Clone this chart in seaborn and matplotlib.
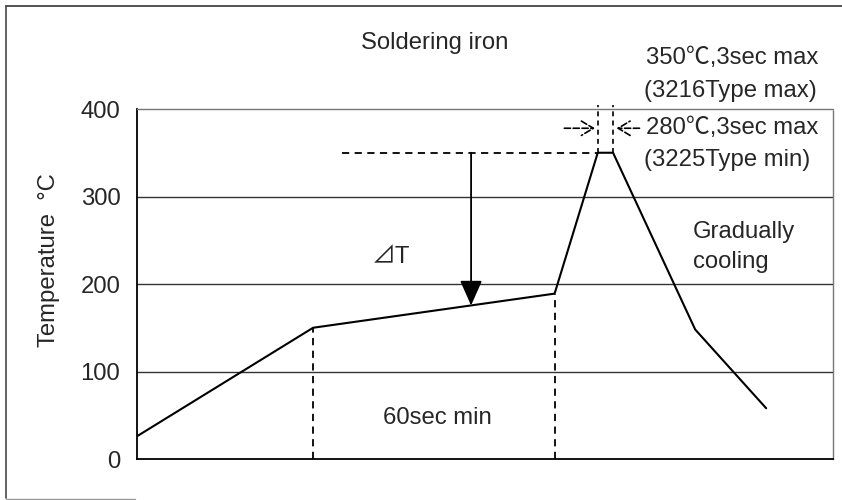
import numpy as np
import pandas as pd
import matplotlib
matplotlib.use("Agg")

import matplotlib.pyplot as plt
import seaborn as sns
from matplotlib.lines import Line2D

# Profile data (time in arbitrary units, temperature in degC)
time_pts = [0, 25.3, 60, 66.2, 68.4, 80.2, 90.4]
temp_pts = [26, 150, 189, 350, 350, 148, 58]

y_ticks = [0, 100, 200, 300, 400]

peak_temp = 350
preheat_start = 25.3
preheat_end = 60
peak_left = 66.2
peak_right = 68.4
delta_x = 48

sns.set_style("white")
plt.rcParams["font.family"] = ["Liberation Sans", "Noto Sans CJK JP", "DejaVu Sans"]
plt.rcParams["font.size"] = 17.2

df = pd.DataFrame({"time": time_pts, "temp": temp_pts})

fig = plt.figure(figsize=(8.42, 5.0), dpi=100)
ax = fig.add_axes([137 / 842, 1 - 459 / 500, 696 / 842, 350 / 500])

sns.lineplot(
    data=df,
    x="time",
    y="temp",
    color="black",
    lw=1.5,
    ax=ax
)

ax.set_xlim(0, 100)
ax.set_ylim(0, 400)
ax.set_yticks(y_ticks)
ax.set_xticks([])
ax.set_xlabel("")
ax.set_ylabel("Temperature  \u00b0C")
ax.yaxis.set_label_coords(-0.111, 0.569)
ax.tick_params(axis="y", length=0, pad=12)

# grid lines
for t in y_ticks[1:-1]:
    ax.axhline(t, color="#333333", lw=1.0, zorder=0)

for side in ["left", "bottom"]:
    ax.spines[side].set_color("black")
    ax.spines[side].set_linewidth(1.3)
for side in ["top", "right"]:
    ax.spines[side].set_color("#777777")
    ax.spines[side].set_linewidth(1.0)
    ax.spines[side].set_linestyle((0, (1, 1)))

dash = (0, (4, 3))

# vertical dashed lines of the preheat window
for xv in [preheat_start, preheat_end]:
    yv = np.interp(xv, time_pts, temp_pts)
    ax.plot([xv, xv], [0, yv], color="black", lw=1.3, linestyle=dash)

# horizontal dashed peak level
ax.plot([29.5, peak_left], [peak_temp, peak_temp], color="black", lw=1.3, linestyle=dash)

# delta T arrow
y_tip = np.interp(delta_x, time_pts, temp_pts)
ax.annotate(
    "",
    xy=(delta_x, y_tip),
    xytext=(delta_x, peak_temp),
    arrowprops=dict(
        arrowstyle="-|>,head_length=0.9,head_width=0.4",
        color="black",
        lw=1.3,
        shrinkA=0,
        shrinkB=0
    )
)

# peak dwell marks
for xv in [peak_left, peak_right]:
    ax.plot([xv, xv], [peak_temp, 405], color="black", lw=1.2,
            linestyle=(0, (3, 2.5)), clip_on=False)

ax.annotate(
    "",
    xy=(65.8, 378),
    xytext=(61.4, 378),
    arrowprops=dict(arrowstyle="->,head_length=0.5,head_width=0.3",
                    color="black", lw=1.2, linestyle="--",
                    shrinkA=0, shrinkB=0),
    annotation_clip=False
)
ax.annotate(
    "",
    xy=(68.9, 378),
    xytext=(72.2, 378),
    arrowprops=dict(arrowstyle="->,head_length=0.5,head_width=0.3",
                    color="black", lw=1.2, linestyle="--",
                    shrinkA=0, shrinkB=0),
    annotation_clip=False
)

# texts
ax.text(42.7, 475, "Soldering iron", ha="center", va="center")
ax.text(73.1, 458, "350\u2103,3sec max", ha="left", va="center")
ax.text(72.9, 421, "(3216Type max)", ha="left", va="center")
ax.text(73.1, 378, "280\u2103,3sec max", ha="left", va="center")
ax.text(72.9, 342, "(3225Type min)", ha="left", va="center")
ax.text(79.9, 259, "Gradually", ha="left", va="center")
ax.text(79.9, 225, "cooling", ha="left", va="center")
ax.text(33.8, 231, "\u22bfT", ha="left", va="center")
ax.text(35.3, 47, "60sec min", ha="left", va="center")

# outer frame
fig.add_artist(Line2D([6 / 842, 6 / 842], [2 / 500, 494 / 500],
                      color="#555555", lw=1.3))
fig.add_artist(Line2D([6 / 842, 1.0], [494 / 500, 494 / 500],
                      color="#444444", lw=1.3))
fig.add_artist(Line2D([6 / 842, 135 / 842], [1.5 / 500, 1.5 / 500],
                      color="#999999", lw=1.0))

plt.savefig("out.png", dpi=100)
